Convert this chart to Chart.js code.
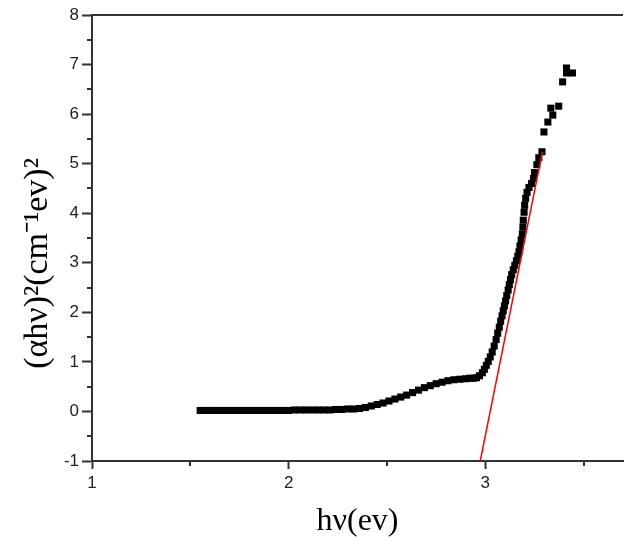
<!DOCTYPE html>
<html>
<head>
<meta charset="utf-8">
<script src="https://cdn.jsdelivr.net/npm/chart.js@4.4.1/dist/chart.umd.min.js"></script>
<style>
  html, body { margin: 0; padding: 0; background: #fff; }
  #wrap { width: 628px; height: 541px; }
</style>
</head>
<body>
<div id="wrap"><canvas id="tauc-chart"></canvas></div>
<script>
// photon energy (eV) and (alpha*h*nu)^2
var hv = [1.55,1.58,1.61,1.64,1.67,1.70,1.73,1.76,1.79,1.82,1.85,1.88,1.91,1.94,1.97,2.00,
    2.03,2.06,2.09,2.12,2.15,2.18,2.21,2.24,2.27,2.30,2.33,2.36,2.39,2.42,2.45,2.48,2.51,2.54,
    2.57,2.60,2.63,2.66,2.69,2.72,2.75,2.78,2.81,2.84,2.87,2.90,2.92,2.94,2.955,2.97,2.985,2.995,
    3.005,3.015,3.025,3.035,3.045,3.055,3.063,3.071,3.078,3.085,3.091,3.097,3.103,3.109,3.116,
    3.122,3.128,3.134,3.142,3.150,3.158,3.165,3.171,3.176,3.182,3.188,3.191,3.193,3.197,3.200,
    3.205,3.212,3.222,3.235,3.245,3.250,3.262,3.272,3.288,3.298,3.318,3.333,3.343,3.373,3.393,
    3.413,3.413,3.443];
var absSq = [0.02,0.02,0.02,0.02,0.02,0.02,0.02,0.02,0.02,0.02,0.02,0.02,0.02,0.02,0.02,0.02,
    0.03,0.03,0.03,0.03,0.03,0.03,0.03,0.04,0.04,0.05,0.05,0.06,0.08,0.11,0.14,0.17,0.21,0.25,
    0.29,0.33,0.38,0.43,0.48,0.52,0.56,0.59,0.62,0.64,0.65,0.66,0.67,0.67,0.68,0.72,0.78,0.85,
    0.93,1.01,1.10,1.20,1.32,1.45,1.58,1.70,1.82,1.93,2.03,2.13,2.23,2.34,2.45,
    2.56,2.66,2.76,2.86,2.95,3.04,3.13,3.22,3.34,3.46,3.58,3.72,3.86,4.02,4.16,
    4.30,4.42,4.52,4.60,4.70,4.82,4.98,5.12,5.24,5.64,5.84,6.12,5.98,6.16,6.65,
    6.83,6.93,6.83];

// linear fit (red line) end points
var fitX = [2.974, 3.29];
var fitY = [-1, 5.24];

var xTicks = [1, 2, 3];
var xMinor = [1.5, 2.5, 3.5];
var yTicks = [-1, 0, 1, 2, 3, 4, 5, 6, 7, 8];
var yMinor = [-0.5, 0.5, 1.5, 2.5, 3.5, 4.5, 5.5, 6.5, 7.5];

var axisColor = '#333333';

var points = hv.map(function (v, i) { return { x: v, y: absSq[i] }; });
var fitLine = fitX.map(function (v, i) { return { x: v, y: fitY[i] }; });

// top frame line and the short minor ticks
var frameAndMinor = {
    id: 'frameAndMinor',
    afterDraw: function (chart) {
        var ctx = chart.ctx, area = chart.chartArea;
        var xs = chart.scales.x, ys = chart.scales.y;
        ctx.save();
        ctx.strokeStyle = axisColor;
        ctx.lineWidth = 2;
        ctx.beginPath();
        ctx.moveTo(area.left - 1, area.top);
        ctx.lineTo(area.right, area.top);
        xMinor.forEach(function (v) {
            var px = Math.round(xs.getPixelForValue(v));
            ctx.moveTo(px, area.bottom);
            ctx.lineTo(px, area.bottom + 5);
        });
        yMinor.forEach(function (v) {
            var py = Math.round(ys.getPixelForValue(v));
            ctx.moveTo(area.left, py);
            ctx.lineTo(area.left - 5, py);
        });
        ctx.stroke();
        ctx.restore();
    }
};

new Chart(document.getElementById('tauc-chart'), {
    type: 'scatter',
    data: {
        datasets: [
            {
                label: 'fit',
                data: fitLine,
                showLine: true,
                borderColor: 'red',
                borderWidth: 1.5,
                pointRadius: 0,
                order: 0
            },
            {
                label: 'data',
                data: points,
                pointStyle: 'rect',
                pointRadius: 5,
                pointBorderWidth: 0,
                backgroundColor: '#000',
                borderColor: '#000',
                order: 1
            }
        ]
    },
    options: {
        responsive: true,
        maintainAspectRatio: false,
        animation: false,
        layout: { padding: { top: 15, right: 0, left: 0, bottom: 0 } },
        plugins: {
            legend: { display: false },
            tooltip: { enabled: false }
        },
        scales: {
            x: {
                type: 'linear',
                min: 1,
                max: 3.7,
                afterBuildTicks: function (scale) {
                    scale.ticks = xTicks.map(function (v) { return { value: v }; });
                },
                afterFit: function (scale) { scale.height = 80; },
                border: { color: axisColor, width: 2 },
                grid: { drawOnChartArea: false, tickLength: 8, tickColor: axisColor, tickWidth: 2 },
                ticks: {
                    color: '#222',
                    padding: 4,
                    maxRotation: 0,
                    font: { family: 'Liberation Sans', size: 17 }
                },
                title: {
                    display: true,
                    text: 'hν(ev)',
                    color: '#000',
                    padding: { top: 0, bottom: 0 },
                    font: { family: 'Liberation Serif', size: 32 }
                }
            },
            y: {
                type: 'linear',
                min: -1,
                max: 8,
                afterBuildTicks: function (scale) {
                    scale.ticks = yTicks.map(function (v) { return { value: v }; });
                },
                afterFit: function (scale) { scale.width = 92; },
                border: { color: axisColor, width: 2 },
                grid: { drawOnChartArea: false, tickLength: 10, tickColor: axisColor, tickWidth: 2 },
                ticks: {
                    color: '#222',
                    padding: 3,
                    font: { family: 'Liberation Sans', size: 17 }
                },
                title: {
                    display: true,
                    text: '(αhν)²(cm⁻¹ev)²      ',
                    color: '#000',
                    padding: { top: 18, bottom: 0 },
                    font: { family: 'Liberation Serif', size: 34 }
                }
            }
        }
    },
    plugins: [frameAndMinor]
});
</script>
</body>
</html>
